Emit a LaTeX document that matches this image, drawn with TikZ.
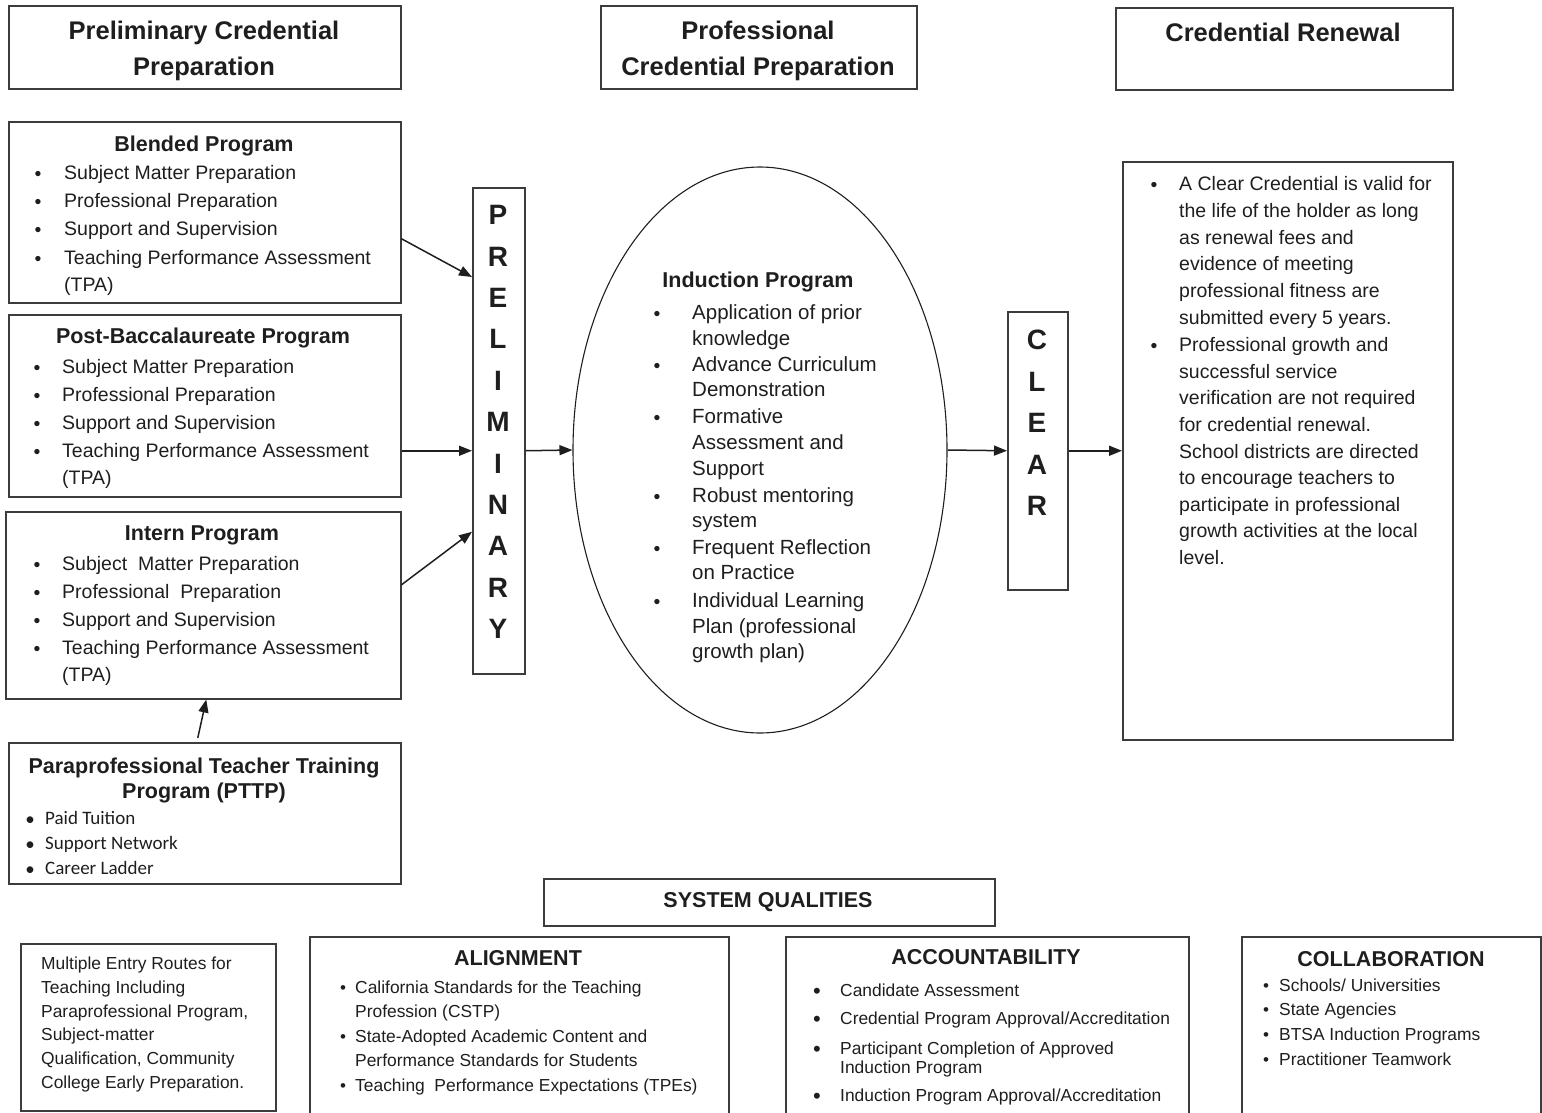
\documentclass[tikz,border=0pt]{standalone}
\usepackage{fontspec}
\setmainfont{Liberation Sans}
\newfontfamily\carl{Carlito}
\usetikzlibrary{arrows.meta,shapes.geometric}
\definecolor{ink}{HTML}{1E1E1E}
\definecolor{linec}{HTML}{3C3C3C}
\newcommand\bitem[7]{\node[#2] (#3b) at (#4,#6) {\textbullet}; \node[#1] (#3) at (#5,#6) {#7};}
\begin{document}
\begin{tikzpicture}[x=1pt,y=-1pt,
  frame/.style={draw=linec, line width=1.5pt, inner sep=0pt, anchor=north west},
  hdr/.style={inner sep=0pt, text=ink, anchor=mid, yshift=-7pt, font=\fontsize{25.5}{30}\selectfont\bfseries},
  ttl/.style={inner sep=0pt, text=ink, anchor=mid, yshift=-5pt, font=\fontsize{21.5}{26}\selectfont\bfseries},
  body/.style={inner sep=0pt, text=ink, anchor=mid west, yshift=-5pt, font=\fontsize{19.5}{23}\selectfont},
  indt/.style={body, font=\fontsize{20.5}{24}\selectfont},
  small/.style={body, font=\fontsize{17.4}{21}\selectfont},
  pt/.style={body, font=\carl\fontsize{19}{23}\selectfont},
  bul/.style={inner sep=0pt, text=ink, yshift=-4pt, font=\fontsize{19.5}{23}\selectfont},
  pbul/.style={bul, font=\carl\fontsize{19}{23}\selectfont},
  sbul/.style={bul, font=\fontsize{17}{21}\selectfont},
  abul/.style={bul, font=\fontsize{22}{21}\selectfont},
  big/.style={inner sep=0pt, text=ink, align=center, font=\fontsize{28}{41.4}\selectfont\bfseries},
  arr/.style={draw=ink, line width=1.5pt, -{Triangle[length=13pt,width=10pt]}}
]
\useasboundingbox (0,0) rectangle (1542,1112);
\clip (0,0) rectangle (1542,1112);

% ---------- headers ----------
\node[frame, minimum width=392pt, minimum height=83pt] (h1) at (8,5) {};
\node[hdr] (h1a) at (204,30) {Preliminary Credential};
\node[hdr] (h1b) at (204,66) {Preparation};
\node[frame, minimum width=316pt, minimum height=83pt] (h2) at (600,5) {};
\node[hdr] (h2a) at (758,30) {Professional};
\node[hdr] (h2b) at (758,66) {Credential Preparation};
\node[frame, minimum width=337pt, minimum height=82pt] (h3) at (1115,7) {};
\node[hdr] (h3a) at (1283,32) {Credential Renewal};

% ---------- Blended ----------
\node[frame, minimum width=392pt, minimum height=181pt] (bl) at (8,121) {};
\node[ttl] (blt) at (204,144) {Blended Program};
\bitem{body}{bul}{bl1}{38}{64}{172}{Subject Matter Preparation}
\bitem{body}{bul}{bl2}{38}{64}{200}{Professional Preparation}
\bitem{body}{bul}{bl3}{38}{64}{228}{Support and Supervision}
\bitem{body}{bul}{bl4}{38}{64}{257}{Teaching Performance Assessment}
\node[body] (bl5) at (64,284) {(TPA)};

% ---------- Post-Bacc ----------
\node[frame, minimum width=392pt, minimum height=182pt] (pb) at (8,314) {};
\node[ttl] (pbt) at (203,336) {Post-Baccalaureate Program};
\bitem{body}{bul}{pb1}{37}{62}{366}{Subject Matter Preparation}
\bitem{body}{bul}{pb2}{37}{62}{394}{Professional Preparation}
\bitem{body}{bul}{pb3}{37}{62}{422}{Support and Supervision}
\bitem{body}{bul}{pb4}{37}{62}{450}{Teaching Performance Assessment}
\node[body] (pb5) at (62,477) {(TPA)};

% ---------- Intern ----------
\node[frame, minimum width=395pt, minimum height=187pt] (intern) at (5,511) {};
\node[ttl] (int) at (202,533) {Intern Program};
\bitem{body}{bul}{in1}{37}{62}{563}{Subject\ \ Matter Preparation}
\bitem{body}{bul}{in2}{37}{62}{591}{Professional\ \ Preparation}
\bitem{body}{bul}{in3}{37}{62}{619}{Support and Supervision}
\bitem{body}{bul}{in4}{37}{62}{647}{Teaching Performance Assessment}
\node[body] (in5) at (62,674) {(TPA)};

% ---------- PTTP ----------
\node[frame, minimum width=392pt, minimum height=141pt] (pttp) at (8,742) {};
\node[ttl] (ptt1) at (204,766) {Paraprofessional Teacher Training};
\node[ttl] (ptt2) at (204,791) {Program (PTTP)};
\bitem{pt}{pbul}{pt1}{30}{45}{817}{Paid Tuition}
\bitem{pt}{pbul}{pt2}{30}{45}{842}{Support Network}
\bitem{pt}{pbul}{pt3}{30}{45}{867}{Career Ladder}

% ---------- PRELIMINARY ----------
\node[frame, minimum width=52pt, minimum height=486pt] (prel) at (472,187) {};
\node[big] (plet) at (498,422) {P\\R\\E\\L\\I\\M\\I\\N\\A\\R\\Y};

% ---------- Induction ellipse ----------
\node[draw=ink, line width=1.1pt, ellipse, inner sep=0pt, minimum width=374pt, minimum height=566pt] (ind) at (760,450) {};
\node[ttl] (indt) at (758,280) {Induction Program};
\bitem{indt}{bul}{id1}{657}{692}{312}{Application of prior}
\node[indt] (id1a) at (692,338) {knowledge};
\bitem{indt}{bul}{id2}{657}{692}{364}{Advance Curriculum}
\node[indt] (id2a) at (692,389) {Demonstration};
\bitem{indt}{bul}{id3}{657}{692}{416}{Formative}
\node[indt] (id3a) at (692,442) {Assessment and};
\node[indt] (id3c) at (692,468) {Support};
\bitem{indt}{bul}{id4}{657}{692}{495}{Robust mentoring}
\node[indt] (id4a) at (692,520) {system};
\bitem{indt}{bul}{id5}{657}{692}{547}{Frequent Reflection}
\node[indt] (id5a) at (692,572) {on Practice};
\bitem{indt}{bul}{id6}{657}{692}{600}{Individual Learning}
\node[indt] (id6a) at (692,626) {Plan (professional};
\node[indt] (id6c) at (692,651) {growth plan)};

% ---------- CLEAR ----------
\node[frame, minimum width=60pt, minimum height=278pt] (clear) at (1007,311) {};
\node[big] (clet) at (1037,423) {C\\L\\E\\A\\R};

% ---------- Renewal box ----------
\node[frame, minimum width=330pt, minimum height=578pt] (rbox) at (1122,161) {};
\bitem{body}{bul}{rb1}{1154}{1179}{183}{A Clear Credential is valid for}
\node[body] (rb1a) at (1179,210) {the life of the holder as long};
\node[body] (rb1c) at (1179,237) {as renewal fees and};
\node[body] (rb1d) at (1179,263) {evidence of meeting};
\node[body] (rb1e) at (1179,290) {professional fitness are};
\node[body] (rb1f) at (1179,317) {submitted every 5 years.};
\bitem{body}{bul}{rb2}{1154}{1179}{344}{Professional growth and}
\node[body] (rb2a) at (1179,371) {successful service};
\node[body] (rb2c) at (1179,397) {verification are not required};
\node[body] (rb2d) at (1179,424) {for credential renewal.};
\node[body] (rb2e) at (1179,451) {School districts are directed};
\node[body] (rb2f) at (1179,477) {to encourage teachers to};
\node[body] (rb2g) at (1179,504) {participate in professional};
\node[body] (rb2h) at (1179,530) {growth activities at the local};
\node[body] (rb2i) at (1179,557) {level.};

% ---------- arrows ----------
\draw[arr] ([yshift=-26.5pt]bl.east) -- ([yshift=-90pt]prel.north west);
\draw[arr] ([yshift=-45pt]pb.east) -- ([yshift=-20pt]prel.west);
\draw[arr] ([yshift=20.5pt]intern.east) -- ([yshift=-101pt]prel.west);
\draw[arr] ([xshift=-7pt,yshift=4pt]pttp.north) -- ([xshift=3pt]intern.south);
\draw[arr] ([yshift=-20pt]prel.east) -- (ind.west);
\draw[arr] (ind.east) -- (clear.west);
\draw[arr] (clear.east) -- (rbox.west);

% ---------- system qualities ----------
\node[frame, minimum width=451pt, minimum height=47pt] (sq) at (543,878) {};
\node[ttl] (sqt) at (768,900) {SYSTEM QUALITIES};

\node[frame, minimum width=255pt, minimum height=167pt] (bleft) at (20,943) {};
\node[small] (bl01) at (41,962) {Multiple Entry Routes for};
\node[small] (bl02) at (41,986) {Teaching Including};
\node[small] (bl03) at (41,1010) {Paraprofessional Program,};
\node[small] (bl04) at (41,1033) {Subject-matter};
\node[small] (bl05) at (41,1057) {Qualification, Community};
\node[small] (bl06) at (41,1081) {College Early Preparation.};

\node[frame, minimum width=419pt, minimum height=200pt] (al) at (309,936) {};
\node[ttl] (alt) at (518,958) {ALIGNMENT};
\bitem{small}{sbul}{al1}{343}{355}{986}{California Standards for the Teaching}
\node[small] (al1a) at (355,1010) {Profession (CSTP)};
\bitem{small}{sbul}{al2}{343}{355}{1035}{State-Adopted Academic Content and}
\node[small] (al2a) at (355,1059) {Performance Standards for Students};
\bitem{small}{sbul}{al3}{343}{355}{1084}{Teaching\ \ Performance Expectations (TPEs)};

\node[frame, minimum width=403pt, minimum height=200pt] (acc) at (785,936) {};
\node[ttl] (acct) at (986,957) {ACCOUNTABILITY};
\bitem{small}{abul}{ac1}{817}{840}{989}{Candidate Assessment}
\bitem{small}{abul}{ac2}{817}{840}{1017}{Credential Program Approval/Accreditation}
\bitem{small}{abul}{ac3}{817}{840}{1047}{Participant Completion of Approved}
\node[small] (ac3a) at (840,1066) {Induction Program};
\bitem{small}{abul}{ac4}{817}{840}{1094}{Induction Program Approval/Accreditation}

\node[frame, minimum width=299pt, minimum height=200pt] (col) at (1241,936) {};
\node[ttl] (colt) at (1391,959) {COLLABORATION};
\bitem{small}{sbul}{co1}{1266}{1279}{984}{Schools/ Universities}
\bitem{small}{sbul}{co2}{1266}{1279}{1008}{State Agencies}
\bitem{small}{sbul}{co3}{1266}{1279}{1033}{BTSA Induction Programs}
\bitem{small}{sbul}{co4}{1266}{1279}{1058}{Practitioner Teamwork}
\end{tikzpicture}
\end{document}
